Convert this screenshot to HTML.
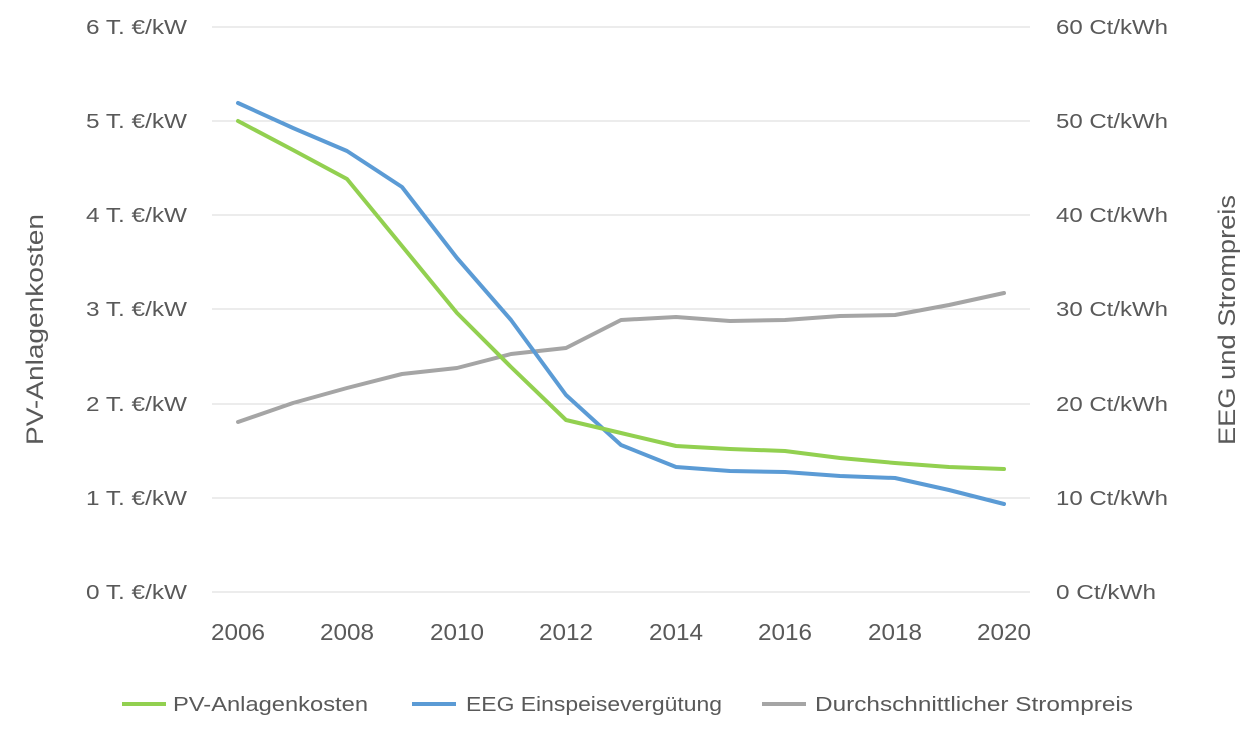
<!DOCTYPE html>
<html><head><meta charset="utf-8"><style>
html,body{margin:0;padding:0;background:#fff;}
svg{display:block;font-family:"Liberation Sans",sans-serif;}
</style></head><body>
<svg width="1247" height="731" viewBox="0 0 1247 731">
<g stroke="#d9d9d9" stroke-width="1">
<line x1="212" y1="27" x2="1030" y2="27"/>
<line x1="212" y1="121" x2="1030" y2="121"/>
<line x1="212" y1="215" x2="1030" y2="215"/>
<line x1="212" y1="309" x2="1030" y2="309"/>
<line x1="212" y1="404" x2="1030" y2="404"/>
<line x1="212" y1="498" x2="1030" y2="498"/>
<line x1="212" y1="592" x2="1030" y2="592"/>
</g>
<g fill="#595959" font-size="20" lengthAdjust="spacingAndGlyphs">
<text x="86" y="34" textLength="101" lengthAdjust="spacingAndGlyphs">6 T. €/kW</text>
<text x="86" y="128" textLength="101" lengthAdjust="spacingAndGlyphs">5 T. €/kW</text>
<text x="86" y="222" textLength="101" lengthAdjust="spacingAndGlyphs">4 T. €/kW</text>
<text x="86" y="316" textLength="101" lengthAdjust="spacingAndGlyphs">3 T. €/kW</text>
<text x="86" y="411" textLength="101" lengthAdjust="spacingAndGlyphs">2 T. €/kW</text>
<text x="86" y="505" textLength="101" lengthAdjust="spacingAndGlyphs">1 T. €/kW</text>
<text x="86" y="599" textLength="101" lengthAdjust="spacingAndGlyphs">0 T. €/kW</text>
</g>
<g fill="#595959" font-size="20">
<text x="1056" y="34" textLength="112" lengthAdjust="spacingAndGlyphs">60 Ct/kWh</text>
<text x="1056" y="128" textLength="112" lengthAdjust="spacingAndGlyphs">50 Ct/kWh</text>
<text x="1056" y="222" textLength="112" lengthAdjust="spacingAndGlyphs">40 Ct/kWh</text>
<text x="1056" y="316" textLength="112" lengthAdjust="spacingAndGlyphs">30 Ct/kWh</text>
<text x="1056" y="411" textLength="112" lengthAdjust="spacingAndGlyphs">20 Ct/kWh</text>
<text x="1056" y="505" textLength="112" lengthAdjust="spacingAndGlyphs">10 Ct/kWh</text>
<text x="1056" y="599" textLength="100" lengthAdjust="spacingAndGlyphs">0 Ct/kWh</text>
</g>
<g fill="#595959" font-size="23">
<text x="211" y="640" textLength="54" lengthAdjust="spacingAndGlyphs">2006</text>
<text x="320" y="640" textLength="54" lengthAdjust="spacingAndGlyphs">2008</text>
<text x="430" y="640" textLength="54" lengthAdjust="spacingAndGlyphs">2010</text>
<text x="539" y="640" textLength="54" lengthAdjust="spacingAndGlyphs">2012</text>
<text x="649" y="640" textLength="54" lengthAdjust="spacingAndGlyphs">2014</text>
<text x="758" y="640" textLength="54" lengthAdjust="spacingAndGlyphs">2016</text>
<text x="868" y="640" textLength="54" lengthAdjust="spacingAndGlyphs">2018</text>
<text x="977" y="640" textLength="54" lengthAdjust="spacingAndGlyphs">2020</text>
</g>
<text transform="translate(43,445) rotate(-90)" fill="#595959" font-size="24" textLength="231" lengthAdjust="spacingAndGlyphs">PV-Anlagenkosten</text>
<text transform="translate(1235,445) rotate(-90)" fill="#595959" font-size="24" textLength="250" lengthAdjust="spacingAndGlyphs">EEG und Strompreis</text>
<g fill="none" stroke-width="4" stroke-linejoin="round" stroke-linecap="round">
<polyline stroke="#a5a5a5" points="238,422 293,403 347,388 402,374 457,368 511,354 566,348 621,320 676,317 730,321 785,320 840,316 895,315 949,305 1004,293"/>
<polyline stroke="#5b9bd5" points="238,103 293,128 347,151 402,187 457,258 511,320 566,395 621,445 676,467 730,471 785,472 840,476 895,478 949,490 1004,504"/>
<polyline stroke="#92d050" points="238,121 293,150 347,179 402,246 457,313 511,367 566,420 621,433 676,446 730,449 785,451 840,458 895,463 949,467 1004,469"/>
</g>
<g font-size="20" fill="#595959">
<line x1="122" y1="704" x2="166" y2="704" stroke="#92d050" stroke-width="4"/>
<text x="173" y="711" textLength="195" lengthAdjust="spacingAndGlyphs">PV-Anlagenkosten</text>
<line x1="412" y1="704" x2="456" y2="704" stroke="#5b9bd5" stroke-width="4"/>
<text x="466" y="711" textLength="256" lengthAdjust="spacingAndGlyphs">EEG Einspeisevergütung</text>
<line x1="762" y1="704" x2="806" y2="704" stroke="#a5a5a5" stroke-width="4"/>
<text x="815" y="711" textLength="318" lengthAdjust="spacingAndGlyphs">Durchschnittlicher Strompreis</text>
</g>
</svg>
</body></html>
